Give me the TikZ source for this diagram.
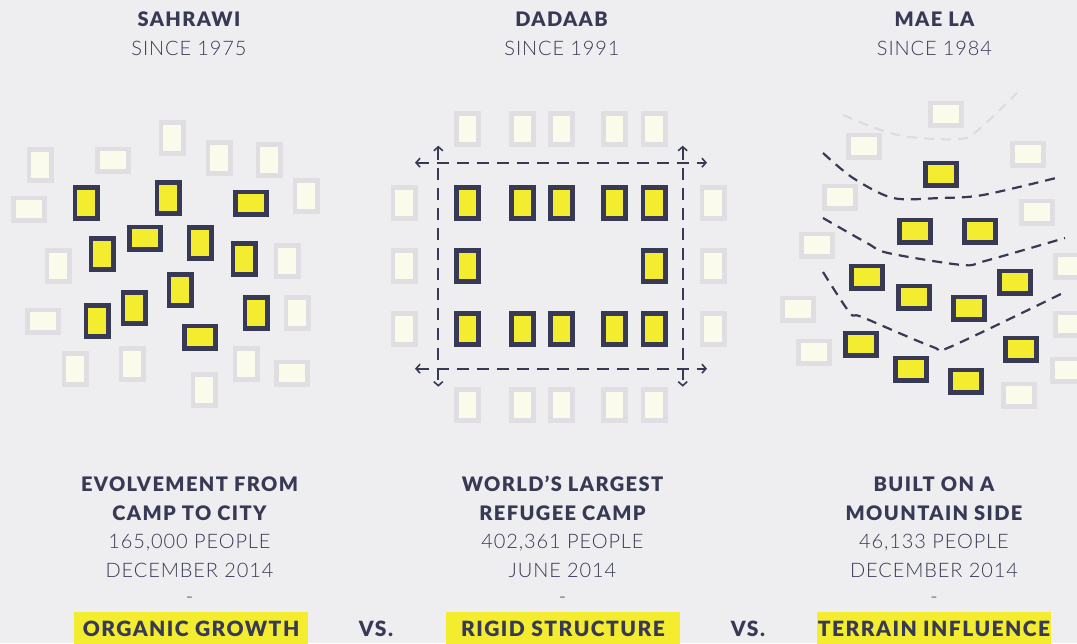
\documentclass[tikz,border=0pt]{standalone}
\usepackage{fontspec}
\setmainfont{Lato}
\IfFontExistsTF{Lato Light}{\newfontfamily\ltfont{Lato Light}[LetterSpace=4.5]}{\newfontfamily\ltfont{Lato}[LetterSpace=3]}
\IfFontExistsTF{Lato Black}{\newfontfamily\bkfont{Lato Black}[LetterSpace=7]\newcommand\bkf{\bkfont}}{\newfontfamily\bkfont{Lato}[LetterSpace=11]\newcommand\bkf{\bkfont\bfseries}}
\usetikzlibrary{arrows.meta}
\definecolor{bg}{HTML}{EEEEF0}
\definecolor{navy}{HTML}{383A55}
\definecolor{yel}{HTML}{F4EC2E}
\definecolor{palef}{HTML}{FAFBEB}
\definecolor{paleb}{HTML}{E0DEE2}
\definecolor{lightdash}{HTML}{DCDBDF}
\begin{document}
\begin{tikzpicture}[x=1pt,y=-1pt,
  box/.style={rectangle, inner sep=0pt, line width=4.8pt},
  dp/.style={box, draw=navy, fill=yel, minimum width=22.2pt, minimum height=31.2pt},
  dl/.style={box, draw=navy, fill=yel, minimum width=31.2pt, minimum height=22.2pt},
  pp/.style={box, draw=paleb, fill=palef, minimum width=22.2pt, minimum height=31.2pt},
  pl/.style={box, draw=paleb, fill=palef, minimum width=31.2pt, minimum height=22.2pt},
  ttl/.style={font=\fontsize{20}{24}\selectfont\bkf, text=navy, anchor=base, inner sep=0pt},
  big/.style={font=\fontsize{21}{25}\selectfont\bkf, text=navy, anchor=base, inner sep=0pt},
  sub/.style={font=\fontsize{20}{24}\selectfont\ltfont, text=navy, anchor=base, inner sep=0pt},
  hl/.style={fill=yel, inner sep=0pt, minimum height=34pt},
  gridline/.style={navy, line width=2.2pt, dash pattern=on 12pt off 8pt,
    {Straight Barb[length=4pt,width=9pt,line width=1.6pt]}-{Straight Barb[length=4pt,width=9pt,line width=1.6pt]}},
  contour/.style={navy, line width=2.2pt, dash pattern=on 10pt off 7pt},
  faint/.style={lightdash, line width=2pt, dash pattern=on 10pt off 7pt},
]
\useasboundingbox (0,0) rectangle (1077,643);
\begin{scope}
\clip (0,0) rectangle (1077,643);
\fill[bg] (0,0) rectangle (1077,643);

% ---------- SAHRAWI ----------
\foreach \x/\y [count=\i] in {40/165,172/138,219/158,269/160,306/196,58/266,287/261,297/313,75/369,132/364,246/364,204/390}
  \node[pp] (sap\i) at (\x,\y) {};
\foreach \x/\y [count=\i] in {113/160,29/209,43/321,292/373}
  \node[pl] (sal\i) at (\x,\y) {};
\foreach \x/\y [count=\i] in {86/203,168/198,102/254,200/243,244/259,180/290,134/308,97/321,256/313}
  \node[dp] (sdp\i) at (\x,\y) {};
\foreach \x/\y [count=\i] in {251/203,145/238,200/337}
  \node[dl] (sdl\i) at (\x,\y) {};

% ---------- DADAAB ----------
\foreach \x [count=\i] in {467.5,522.5,561.5,614.5,654}{
  \node[pp] (dt\i) at (\x,129) {};
  \node[pp] (db\i) at (\x,405) {};
  \node[dp] (dr\i) at (\x,203) {};
  \node[dp] (dq\i) at (\x,329) {};
}
\node[dp] (dm1) at (467.5,266) {};
\node[dp] (dm2) at (654,266) {};
\foreach \y [count=\i] in {203,266,329}{
  \node[pp] (dlc\i) at (404,\y) {};
  \node[pp] (drc\i) at (713,\y) {};
}
\coordinate (hl1) at (415,162.7);
\coordinate (hr1) at (707,162.7);
\coordinate (hl2) at (415,368.7);
\coordinate (hr2) at (707,368.7);
\coordinate (vt1) at (438.3,145.7);
\coordinate (vb1) at (438.3,386.7);
\coordinate (vt2) at (682.7,145.7);
\coordinate (vb2) at (682.7,386.7);
\draw[gridline] (hl1) -- (hr1);
\draw[gridline] (hl2) -- (hr2);
\draw[gridline] (vt1) -- (vb1);
\draw[gridline] (vt2) -- (vb2);

% ---------- MAE LA ----------
\draw[faint] plot[smooth, tension=0.6] coordinates {(843,115) (898,135) (958,139) (978,130) (1017,93)};
\draw[contour] plot[smooth, tension=0.5] coordinates {(823,153) (853,178) (893,198) (940,198) (983,195) (1060,177)};
\draw[contour] plot[smooth, tension=0.5] coordinates {(823,218) (867,243) (888,253) (962,265) (985,261) (1065,238)};
\draw[contour] plot[smooth, tension=0.5] coordinates {(823,272) (850,313) (862,317) (933,347) (950,347) (1065,292)};
\foreach \x/\y [count=\i] in {946/114,864/146,1028/154,840/197,1037/212,817/245,1071/266,798/309,1071/324,814/352,1068/370,1019/395}
  \node[pl] (mp\i) at (\x,\y) {};
\foreach \x/\y [count=\i] in {941/174,915/231,980/231,867/277,1015/282,914/297,969/308,861/344,1021/349,911/369,966/381}
  \node[dl] (md\i) at (\x,\y) {};

% ---------- highlights ----------
\node[hl, minimum width=233.7pt] (hbox1) at (191,629) {};
\node[hl, minimum width=234pt] (hbox2) at (563,629) {};
\node[hl, minimum width=234pt] (hbox3) at (934,629) {};
\end{scope}

% ---------- titles ----------
\node[ttl] (t1) at (189,26.7) {SAHRAWI};
\node[sub] (s1) at (189,55) {SINCE 1975};
\node[ttl] (t2) at (561.5,26.7) {DADAAB};
\node[sub] (s2) at (562,55) {SINCE 1991};
\node[ttl] (t3) at (934.5,26.7) {MAE LA};
\node[sub] (s3) at (934.5,55) {SINCE 1984};

% ---------- descriptions ----------
\node[ttl] (a1) at (189.5,491.7) {EVOLVEMENT FROM};
\node[ttl] (a2) at (189.5,520) {CAMP TO CITY};
\node[sub] (a3) at (189.5,548.3) {165,000 PEOPLE};
\node[sub] (a4) at (189.5,577) {DECEMBER 2014};
\node[sub] (a5) at (189.5,603) {-};

\node[ttl] (b1) at (562.5,491.7) {WORLD’S LARGEST};
\node[ttl] (b2) at (562.5,520) {REFUGEE CAMP};
\node[sub] (b3) at (562.5,548.3) {402,361 PEOPLE};
\node[sub] (b4) at (562.5,577) {JUNE 2014};
\node[sub] (b5) at (562.5,603) {-};

\node[ttl] (c1) at (934,491.7) {BUILT ON A};
\node[ttl] (c2) at (934,520) {MOUNTAIN SIDE};
\node[sub] (c3) at (934,548.3) {46,133 PEOPLE};
\node[sub] (c4) at (934,577) {DECEMBER 2014};
\node[sub] (c5) at (934,603) {-};

\node[big] (g1) at (191,636) {ORGANIC GROWTH};
\node[big] (g2) at (563,636) {RIGID STRUCTURE};
\node[big] (g3) at (934,636) {TERRAIN INFLUENCE};
\node[big] (vs1) at (376,636) {VS.};
\node[big] (vs2) at (748,636) {VS.};
\end{tikzpicture}
\end{document}
